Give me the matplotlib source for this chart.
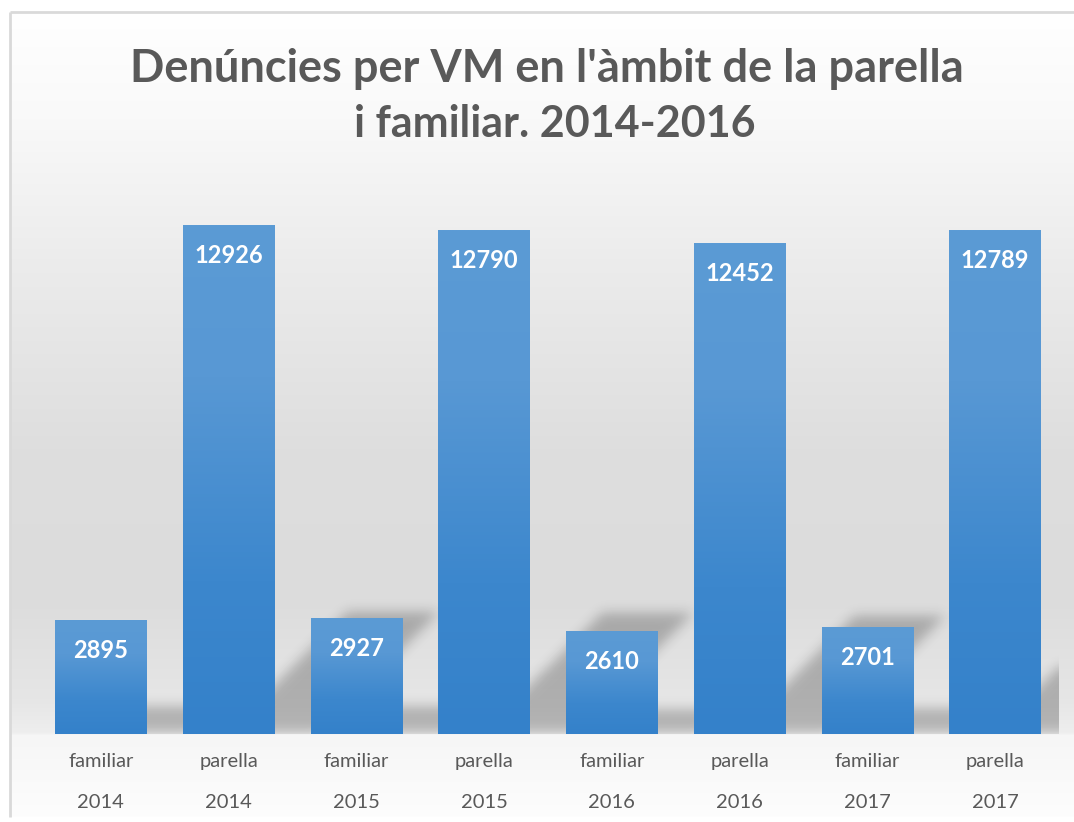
import numpy as np
import matplotlib
matplotlib.use("Agg")
import matplotlib.pyplot as plt
from matplotlib.colors import to_rgb
from matplotlib.path import Path
import matplotlib.transforms as mtransforms

# ---------------- data ----------------
categories = ["familiar", "parella", "familiar", "parella",
              "familiar", "parella", "familiar", "parella"]
years = ["2014", "2014", "2015", "2015", "2016", "2016", "2017", "2017"]
values = [2895, 12926, 2927, 12790, 2610, 12452, 2701, 12789]
title_lines = ["Denúncies per VM en l'àmbit de la parella",
               "i familiar. 2014-2016"]

FONT = "Lato"
TXT = "#595959"
W, H, DPI = 1074, 822, 100

fig = plt.figure(figsize=(W / DPI, H / DPI), dpi=DPI)
fig.patch.set_facecolor("white")


def fx(px):
    return px / W


def fy(py):
    return 1 - py / H


# ---------------- chart-area background gradient ----------------
bg = fig.add_axes([0, 0, 1, 1], zorder=-10)
stops = [(12, "#ffffff"), (120, "#f9f9f9"), (260, "#ececec"), (450, "#dedede"),
         (600, "#dcdcdc"), (700, "#e6e6e6"), (733, "#eeeeee"), (736, "#f6f6f6"),
         (817, "#fdfdfd")]
ys = np.arange(12, 818)
pos = np.array([p for p, _ in stops], dtype=float)
cols = np.array([to_rgb(c) for _, c in stops])
grad = np.stack([np.interp(ys, pos, cols[:, k]) for k in range(3)], axis=-1)
bg.imshow(np.repeat(grad[:, None, :], 2, axis=1), extent=(10, W, 817, 12),
          aspect="auto", interpolation="bilinear")
bg.plot([10, 10], [12, 817], color="#d9d9d9", lw=2, solid_capstyle="butt")
bg.plot([10, W], [12, 12], color="#d9d9d9", lw=2, solid_capstyle="butt")
bg.set_xlim(0, W)
bg.set_ylim(H, 0)
bg.axis("off")

# ---------------- main axes ----------------
L, R, B, T = 37, 1059, 734, 183
YMAX = 14000
ax = fig.add_axes([fx(L), fy(B), (R - L) / W, (B - T) / H])
ax.patch.set_alpha(0)
x = np.arange(len(values))
bw = 0.716
bars = ax.bar(x, values, width=bw, color="none", zorder=3)

px_x = (R - L) / len(values)   # pixels per category
px_y = (B - T) / YMAX          # pixels per value unit

# ---- soft perspective shadows derived from the bars ----
nx, ny = R - L, B - T
gx = np.linspace(-0.5, len(values) - 0.5, nx)
gy = np.linspace(YMAX, 0, ny)
GX, GY = np.meshgrid(gx, gy)
pts = np.column_stack([GX.ravel(), GY.ravel()])
mask = np.zeros(GX.size, dtype=bool)
for b in bars:
    h = b.get_height()
    x0 = b.get_x()
    w = b.get_width()
    sh = 0.24 * h
    dx = 1.0 * sh * px_y / px_x
    off = 0.47 * w
    poly = Path([(x0 + off, 0), (x0 + off + dx, sh), (x0 + w + off + dx, sh),
                 (x0 + w + off, 0), (x0 + off, 0)])
    mask |= poly.contains_points(pts)
mask = mask.reshape(GX.shape).astype(float)


def blur(a, sigma):
    r = int(3 * sigma)
    k = np.exp(-0.5 * (np.arange(-r, r + 1) / sigma) ** 2)
    k /= k.sum()
    p = np.pad(a, ((0, 0), (r, r)), mode="edge")
    a = sum(k[i] * p[:, i:i + a.shape[1]] for i in range(2 * r + 1))
    p = np.pad(a, ((r, r), (0, 0)), mode="edge")
    a = sum(k[i] * p[i:i + a.shape[0], :] for i in range(2 * r + 1))
    return a


soft = blur(mask, 6.0)
rgba = np.zeros(soft.shape + (4,))
rgba[..., 3] = 0.24 * soft
ax.imshow(rgba, extent=(-0.5, len(values) - 0.5, 0, YMAX), aspect="auto",
          interpolation="bilinear", zorder=1)

# ---- gradient-filled bars ----
gstops = [(0.0, "#5b9bd5"), (0.3, "#5898d4"), (0.7, "#3c87cd"), (1.0, "#3481ca")]
t = np.linspace(0, 1, 200)
gp = np.array([p for p, _ in gstops])
gc = np.array([to_rgb(c) for _, c in gstops])
bar_grad = np.stack([np.interp(t, gp, gc[:, k]) for k in range(3)], axis=-1)[:, None, :]
for b in bars:
    ax.imshow(bar_grad, extent=(b.get_x(), b.get_x() + b.get_width(), 0, b.get_height()),
              aspect="auto", interpolation="bilinear", zorder=2)

# ---- value labels ----
for xi, v in zip(x, values):
    ax.annotate(str(v), xy=(xi, v), xytext=(0, -30), textcoords="offset pixels",
                ha="center", va="center", color="white", fontsize=17,
                fontweight="bold", family=FONT, zorder=5)

ax.set_xlim(-0.5, len(values) - 0.5)
ax.set_ylim(0, YMAX)
ax.axis("off")

# ---- two-level category labels ----
tr = ax.get_xaxis_transform()
tr1 = mtransforms.offset_copy(tr, fig=fig, y=-27, units="dots")
tr2 = mtransforms.offset_copy(tr, fig=fig, y=-68, units="dots")
for xi, c, yr in zip(x, categories, years):
    ax.text(xi, 0, c, transform=tr1, ha="center", va="center", color=TXT,
            fontsize=14.5, family=FONT)
    ax.text(xi, 0, yr, transform=tr2, ha="center", va="center", color=TXT,
            fontsize=14.5, family=FONT)

# ---- title ----
fig.text(fx(547), fy(82), title_lines[0], ha="center", va="baseline",
         fontsize=32.5, fontweight="bold", color=TXT, family=FONT)
fig.text(fx(555), fy(137), title_lines[1], ha="center", va="baseline",
         fontsize=31, fontweight="bold", color=TXT, family=FONT)

fig.savefig("out.png", dpi=DPI)
